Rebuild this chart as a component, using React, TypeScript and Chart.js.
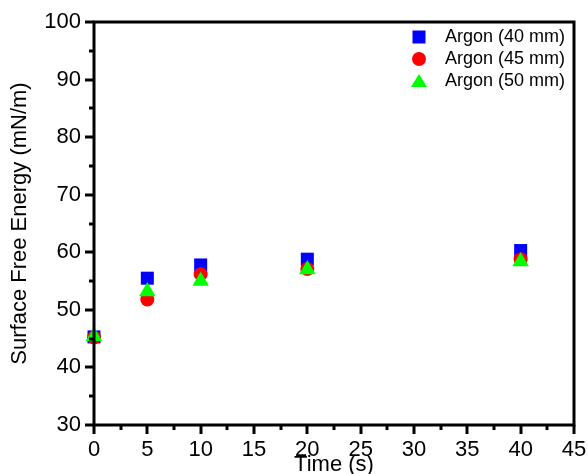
import React, { useEffect, useRef } from "react";
import { Chart, registerables } from "chart.js";

Chart.register(...registerables);

const times = [0, 5, 10, 20, 40];
const argon40 = [45.3, 55.5, 57.8, 58.8, 60.3];
const argon45 = [45.2, 51.8, 56.2, 57.1, 58.8];
const argon50 = [45.4, 53.2, 55.0, 57.0, 58.4];
const seriesLabels = ["Argon (40 mm)", "Argon (45 mm)", "Argon (50 mm)"];
const xTicks = [0, 5, 10, 15, 20, 25, 30, 35, 40, 45];
const yTicks = [30, 40, 50, 60, 70, 80, 90, 100];

const FONT = "'Liberation Sans', Arial, sans-serif";

const framePlugin = {
  id: "frame",
  afterDatasetsDraw(chart: any) {
    const { ctx, chartArea, scales } = chart;
    const { left, right, top, bottom } = chartArea;
    ctx.save();
    ctx.strokeStyle = "#000";
    const xs = scales.x;
    const ys = scales.y;
    ctx.lineWidth = 3;
    ctx.lineCap = "butt";
    for (let v = 0; v <= 45.001; v += 2.5) {
      const major = Math.abs(v / 5 - Math.round(v / 5)) < 1e-6;
      const px = Math.round(xs.getPixelForValue(v));
      ctx.beginPath();
      ctx.moveTo(px, bottom);
      ctx.lineTo(px, bottom + (major ? 9 : 5));
      ctx.stroke();
    }
    for (let v = 30; v <= 100.001; v += 5) {
      const major = Math.abs(v / 10 - Math.round(v / 10)) < 1e-6;
      const py = Math.round(ys.getPixelForValue(v));
      ctx.beginPath();
      ctx.moveTo(left, py);
      ctx.lineTo(left - (major ? 9 : 5), py);
      ctx.stroke();
    }
    ctx.lineWidth = 3;
    ctx.lineCap = "square";
    ctx.strokeRect(left, top, right - left, bottom - top);
    ctx.restore();
  },
};

const legendPlugin = {
  id: "insideLegend",
  afterDraw(chart: any) {
    const { ctx } = chart;
    const rows = [37, 59, 81];
    const mx = 419;
    const tx = 445;
    ctx.save();
    chart.data.datasets.forEach((ds: any, i: number) => {
      const y = rows[i];
      ctx.fillStyle = ds.backgroundColor;
      ctx.beginPath();
      if (ds.pointStyle === "rect") {
        ctx.rect(mx - 6.5, y - 6.5, 13, 13);
      } else if (ds.pointStyle === "circle") {
        ctx.arc(mx, y, 7, 0, Math.PI * 2);
      } else {
        ctx.moveTo(mx, y - 7);
        ctx.lineTo(mx + 8, y + 6);
        ctx.lineTo(mx - 8, y + 6);
        ctx.closePath();
      }
      ctx.fill();
      ctx.fillStyle = "#000";
      ctx.font = `18px ${FONT}`;
      ctx.textBaseline = "middle";
      ctx.textAlign = "left";
      ctx.fillText(ds.label, tx, y);
    });
    ctx.restore();
  },
};

export default function App() {
  const ref = useRef<HTMLCanvasElement>(null);
  useEffect(() => {
    document.body.style.margin = "0";
    const mk = (vals: number[]) => times.map((t, i) => ({ x: t, y: vals[i] }));
    const chart = new Chart(ref.current as HTMLCanvasElement, {
      type: "scatter",
      data: {
        datasets: [
          {
            label: seriesLabels[0],
            data: mk(argon40),
            pointStyle: "rect",
            pointRadius: 9.2,
            backgroundColor: "#0000ff",
            borderColor: "#0000ff",
            borderWidth: 0,
            order: 3,
            clip: false,
          },
          {
            label: seriesLabels[1],
            data: mk(argon45),
            pointStyle: "circle",
            pointRadius: 7,
            backgroundColor: "#ff0000",
            borderColor: "#ff0000",
            borderWidth: 0,
            order: 2,
            clip: false,
          },
          {
            label: seriesLabels[2],
            data: mk(argon50),
            pointStyle: "triangle",
            pointRadius: 9.5,
            backgroundColor: "#00ff00",
            borderColor: "#00ff00",
            borderWidth: 0,
            order: 1,
            clip: false,
          },
        ] as any,
      },
      plugins: [framePlugin, legendPlugin],
      options: {
        animation: false,
        responsive: false,
        layout: { padding: { left: 0, right: 14, top: 22, bottom: 0 } },
        plugins: { legend: { display: false }, tooltip: { enabled: false } },
        scales: {
          x: {
            type: "linear",
            min: 0,
            max: 45,
            afterBuildTicks: (s: any) => {
              s.ticks = xTicks.map((v) => ({ value: v }));
            },
            afterFit: (s: any) => {
              s.height = 49;
              s.paddingLeft = 0;
              s.paddingRight = 0;
            },
            grid: { display: false, drawTicks: false },
            border: { display: false },
            ticks: {
              autoSkip: false,
              maxRotation: 0,
              padding: 12,
              color: "#000",
              font: { family: FONT, size: 22 },
            },
            title: {
              display: true,
              text: "Time (s)",
              color: "#000",
              font: { family: FONT, size: 22, lineHeight: 0.8 },
              padding: { top: 0, bottom: 0 },
            },
          },
          y: {
            type: "linear",
            min: 30,
            max: 100,
            afterBuildTicks: (s: any) => {
              s.ticks = yTicks.map((v) => ({ value: v }));
            },
            afterFit: (s: any) => {
              s.width = 94;
              s.paddingTop = 0;
              s.paddingBottom = 0;
            },
            grid: { display: false, drawTicks: false },
            border: { display: false },
            ticks: {
              autoSkip: false,
              padding: 13,
              color: "#000",
              font: { family: FONT, size: 22 },
            },
            title: {
              display: true,
              text: "Surface Free Energy (mN/m)",
              color: "#000",
              font: { family: FONT, size: 22, lineHeight: 1 },
              padding: { top: 9, bottom: 0 },
            },
          },
        },
      },
    });
    return () => chart.destroy();
  }, []);
  return (
    <div style={{ width: 588, height: 474 }}>
      <canvas ref={ref} width={588} height={474} style={{ width: 588, height: 474, display: "block" }} />
    </div>
  );
}
